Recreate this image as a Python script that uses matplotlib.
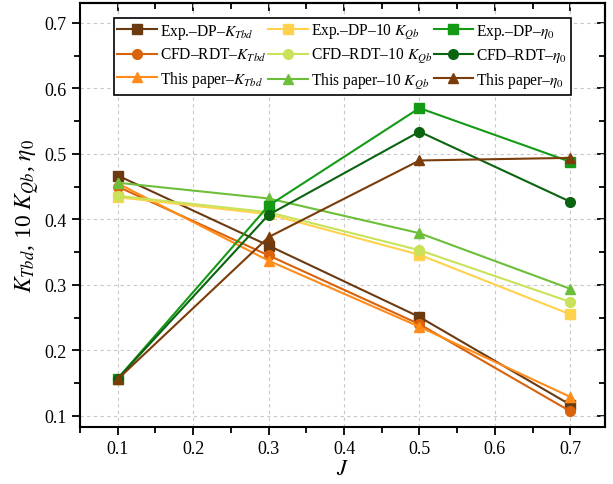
import matplotlib
matplotlib.use('Agg')
import matplotlib.pyplot as plt
from matplotlib.ticker import MultipleLocator

plt.rcParams['font.family'] = ['Liberation Serif', 'DejaVu Serif']
plt.rcParams['mathtext.fontset'] = 'stix'

# advance ratio
J = [0.1, 0.3, 0.5, 0.7]

# thrust coefficient K_Tbd
kt_exp = [0.467, 0.360, 0.251, 0.117]
kt_cfd = [0.450, 0.345, 0.240, 0.107]
kt_paper = [0.455, 0.337, 0.236, 0.129]

# torque coefficient 10 K_Qb
kq_exp = [0.434, 0.408, 0.346, 0.255]
kq_cfd = [0.436, 0.411, 0.353, 0.274]
kq_paper = [0.456, 0.432, 0.379, 0.294]

# open water efficiency eta_0
eta_exp = [0.157, 0.421, 0.570, 0.488]
eta_cfd = [0.157, 0.407, 0.534, 0.427]
eta_paper = [0.156, 0.373, 0.490, 0.494]

series = [
    (kt_exp, 's', '#6B3A10', r'Exp.–DP–$K_{Tbd}$'),
    (kt_cfd, 'o', '#D9620A', r'CFD–RDT–$K_{Tbd}$'),
    (kt_paper, '^', '#FF8C1A', r'This paper–$K_{Tbd}$'),
    (kq_exp, 's', '#FFD24D', r'Exp.–DP–10 $K_{Qb}$'),
    (kq_cfd, 'o', '#C8E35A', r'CFD–RDT–10 $K_{Qb}$'),
    (kq_paper, '^', '#6DBF3A', r'This paper–10 $K_{Qb}$'),
    (eta_exp, 's', '#159A15', r'Exp.–DP–$\eta_0$'),
    (eta_cfd, 'o', '#0A6410', r'CFD–RDT–$\eta_0$'),
    (eta_paper, '^', '#7B3C0A', r'This paper–$\eta_0$'),
]

fig = plt.figure(figsize=(6.13, 4.85), dpi=100)
ax = fig.add_axes([0.1305, 0.1175, 0.8565, 0.8743])

for vals, mk, col, lab in series:
    ax.plot(J, vals, marker=mk, color=col, lw=1.5, ms=7, label=lab)

ax.set_xlim(0.05, 0.746)
ax.set_ylim(0.083, 0.7305)
ax.xaxis.set_major_locator(MultipleLocator(0.1))
ax.xaxis.set_minor_locator(MultipleLocator(0.05))
ax.yaxis.set_major_locator(MultipleLocator(0.1))
ax.yaxis.set_minor_locator(MultipleLocator(0.05))
ax.tick_params(which='both', direction='out', width=1.3, labelsize=13)
ax.tick_params(which='major', length=6)
ax.tick_params(which='minor', length=4)

# inward ticks on the top and right spines
sx = ax.secondary_xaxis('top')
sx.xaxis.set_major_locator(MultipleLocator(0.1))
sx.xaxis.set_minor_locator(MultipleLocator(0.05))
sx.tick_params(which='both', direction='in', labeltop=False, width=1.3)
sx.tick_params(which='major', length=6)
sx.tick_params(which='minor', length=4)
sy = ax.secondary_yaxis('right')
sy.yaxis.set_major_locator(MultipleLocator(0.1))
sy.yaxis.set_minor_locator(MultipleLocator(0.05))
sy.tick_params(which='both', direction='in', labelright=False, width=1.3)
sy.tick_params(which='major', length=6)
sy.tick_params(which='minor', length=4)
for s in list(ax.spines.values()) + [sx.spines['top'], sy.spines['right']]:
    s.set_linewidth(1.5)

ax.grid(True, which='major', ls=(0, (3, 3)), color='#c8c8c8', lw=0.8)
ax.set_axisbelow(True)

ax.set_xlabel(r'$J$', fontsize=16, labelpad=2)
ax.set_ylabel(r'$K_{Tbd}$, 10 $K_{Qb}$, $\eta_0$', fontsize=17, labelpad=2)

leg = ax.legend(ncol=3, loc='upper center', bbox_to_anchor=(0.5, 0.9646), fontsize=11.2,
                frameon=True, fancybox=False, edgecolor='black', framealpha=1,
                handlelength=2.55, columnspacing=0.1, handletextpad=0.2,
                labelspacing=0.35, borderpad=0.25, borderaxespad=0)
leg.get_frame().set_linewidth(1.2)

fig.savefig('out.png', dpi=100)
